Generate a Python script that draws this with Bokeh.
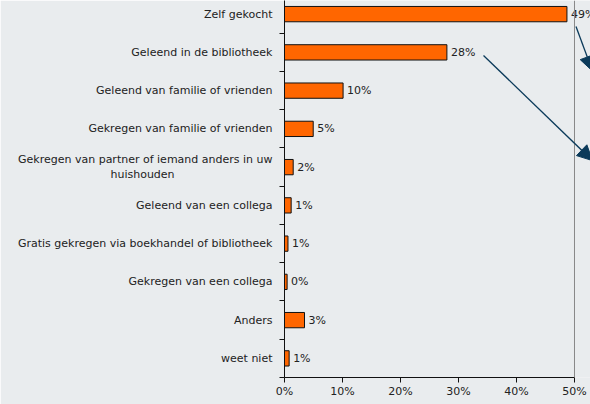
from bokeh.plotting import figure
from bokeh.models import (Range1d, FixedTicker, PrintfTickFormatter, ColumnDataSource,
                          LabelSet, Arrow, NormalHead, Span)
from bokeh.core.properties import value
from bokeh.embed import file_html
from bokeh.resources import INLINE

NBSP = "\u00a0"
categories = [
    "Zelf gekocht",
    "Geleend in de bibliotheek",
    "Geleend van familie of vrienden",
    "Gekregen van familie of vrienden",
    "Gekregen van partner of iemand anders in uw\nhuishouden" + NBSP * 28,
    "Geleend van een collega",
    "Gratis gekregen via boekhandel of bibliotheek",
    "Gekregen van een collega",
    "Anders",
    "weet niet",
]
values = [48.7, 28.0, 10.1, 4.95, 1.5, 1.15, 0.6, 0.45, 3.45, 0.8]
value_labels = ["49%", "28%", "10%", "5%", "2%", "1%", "1%", "0%", "3%", "1%"]
x_ticks = [0, 10, 20, 30, 40, 50]

positions = list(range(len(categories)))

FONT = "DejaVu Sans"
BG = "#E9ECEE"
TXT = "#222222"

source = ColumnDataSource(data=dict(pos=positions, value=values, label=value_labels))

p = figure(width=590, height=404, output_backend="svg", toolbar_location=None,
           x_range=Range1d(0, 52.76), y_range=Range1d(9.5, -0.356),
           min_border_left=284, min_border_right=0, min_border_top=0, min_border_bottom=27)
p.styles = {"position": "absolute", "left": "0px", "top": "0px"}
p.background_fill_color = BG
p.border_fill_color = BG
p.outline_line_color = None
p.xgrid.visible = False
p.ygrid.visible = False

p.hbar(y="pos", left=0, right="value", height=0.4, source=source,
       fill_color="#FF6600", line_color="#111111", line_width=1)

p.add_layout(LabelSet(x="value", y="pos", text="label", source=source, x_offset=4,
                      text_baseline="middle", text_font=value(FONT), text_font_size="11px",
                      text_color=TXT))

p.add_layout(Span(location=50, dimension="height", line_color="#888888", line_width=1))

# y axis
p.yaxis.ticker = FixedTicker(ticks=positions, minor_ticks=[i - 0.5 for i in range(len(categories) + 1)])
p.yaxis.major_label_overrides = {i: c for i, c in enumerate(categories)}
p.yaxis.major_tick_out = 0
p.yaxis.major_tick_in = 0
p.yaxis.minor_tick_out = 5
p.yaxis.minor_tick_in = 0
p.yaxis.minor_tick_line_color = "#111111"
p.yaxis.axis_line_color = "#111111"
p.yaxis.major_label_standoff = 7
p.yaxis.major_label_text_font = FONT
p.yaxis.major_label_text_font_size = "11px"
p.yaxis.major_label_text_color = TXT

# x axis
p.xaxis.bounds = (0, 50)
p.xaxis.ticker = FixedTicker(ticks=x_ticks)
p.xaxis.formatter = PrintfTickFormatter(format="%d%%")
p.xaxis.major_tick_out = 5
p.xaxis.major_tick_in = 0
p.xaxis.minor_tick_out = 0
p.xaxis.minor_tick_in = 0
p.xaxis.major_tick_line_color = "#111111"
p.xaxis.axis_line_color = "#111111"
p.xaxis.major_label_standoff = 2
p.xaxis.major_label_text_font = FONT
p.xaxis.major_label_text_font_size = "11px"
p.xaxis.major_label_text_color = TXT

ARROW = "#0B3A5A"
p.add_layout(Arrow(x_start=50.26, y_start=0.324, x_end=53.1, y_end=1.49,
                   line_color=ARROW, line_width=1.3,
                   end=NormalHead(size=15, fill_color=ARROW, line_color=ARROW)))
p.add_layout(Arrow(x_start=34.31, y_start=1.08, x_end=53.1, y_end=3.83,
                   line_color=ARROW, line_width=1.3,
                   end=NormalHead(size=15, fill_color=ARROW, line_color=ARROW)))

open("out.html", "w").write(file_html(p, INLINE))
